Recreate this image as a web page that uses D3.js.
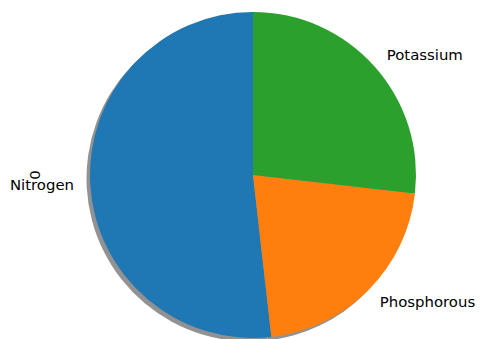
<!DOCTYPE html>
<html>
<head>
<meta charset="utf-8">
<script src="https://cdn.jsdelivr.net/npm/d3@7"></script>
<style>
  body { margin: 0; background: #fff; }
  text { font-family: "DejaVu Sans", sans-serif; }
</style>
</head>
<body>
<div id="chart"></div>
<script>
// nutrient shares
var labels = ["Nitrogen", "Phosphorous", "Potassium"];
var values = [51.8, 21.4, 26.8];
var colors = ["#1f77b4", "#ff7f0e", "#2ca02c"];
var yLabel = "0";

var width = 480, height = 339;
var cx = 253, cy = 175, r = 163;

var svg = d3.select("#chart")
  .append("svg")
    .attr("width", width)
    .attr("height", height);

// counterclockwise from 12 o'clock, like matplotlib startangle=90
var pie = d3.pie().sort(null).startAngle(0).endAngle(-2 * Math.PI);
var arcs = pie(values);
var arc = d3.arc().innerRadius(0).outerRadius(r);

// shadow, shifted left and down
svg.append("g")
  .attr("transform", "translate(" + (cx - 3.5) + "," + (cy + 3.5) + ")")
  .selectAll("path")
  .data(arcs)
  .enter()
  .append("path")
    .attr("d", arc)
    .attr("fill", "#7f7f7f")
    .attr("opacity", 0.85);

var g = svg.append("g")
  .attr("transform", "translate(" + cx + "," + cy + ")");

g.selectAll("path.slice")
  .data(arcs)
  .enter()
  .append("path")
    .attr("class", "slice")
    .attr("d", arc)
    .attr("fill", function(d, i) { return colors[i]; });

// labels at 1.1 r on the mid angle
g.selectAll("text.lbl")
  .data(arcs)
  .enter()
  .append("text")
    .attr("class", "lbl")
    .attr("x", function(d) { return 1.1 * r * Math.sin((d.startAngle + d.endAngle) / 2); })
    .attr("y", function(d) { return -1.1 * r * Math.cos((d.startAngle + d.endAngle) / 2); })
    .attr("dy", "0.32em")
    .attr("text-anchor", function(d) {
      return Math.sin((d.startAngle + d.endAngle) / 2) < 0 ? "end" : "start";
    })
    .style("font-size", "14.9px")
    .attr("fill", "#000")
    .text(function(d, i) { return labels[i]; });

// y axis label left over from pandas
svg.append("text")
  .attr("transform", "translate(40," + cy + ") rotate(-90)")
  .attr("text-anchor", "middle")
  .style("font-size", "14.9px")
  .attr("fill", "#000")
  .text(yLabel);
</script>
</body>
</html>
